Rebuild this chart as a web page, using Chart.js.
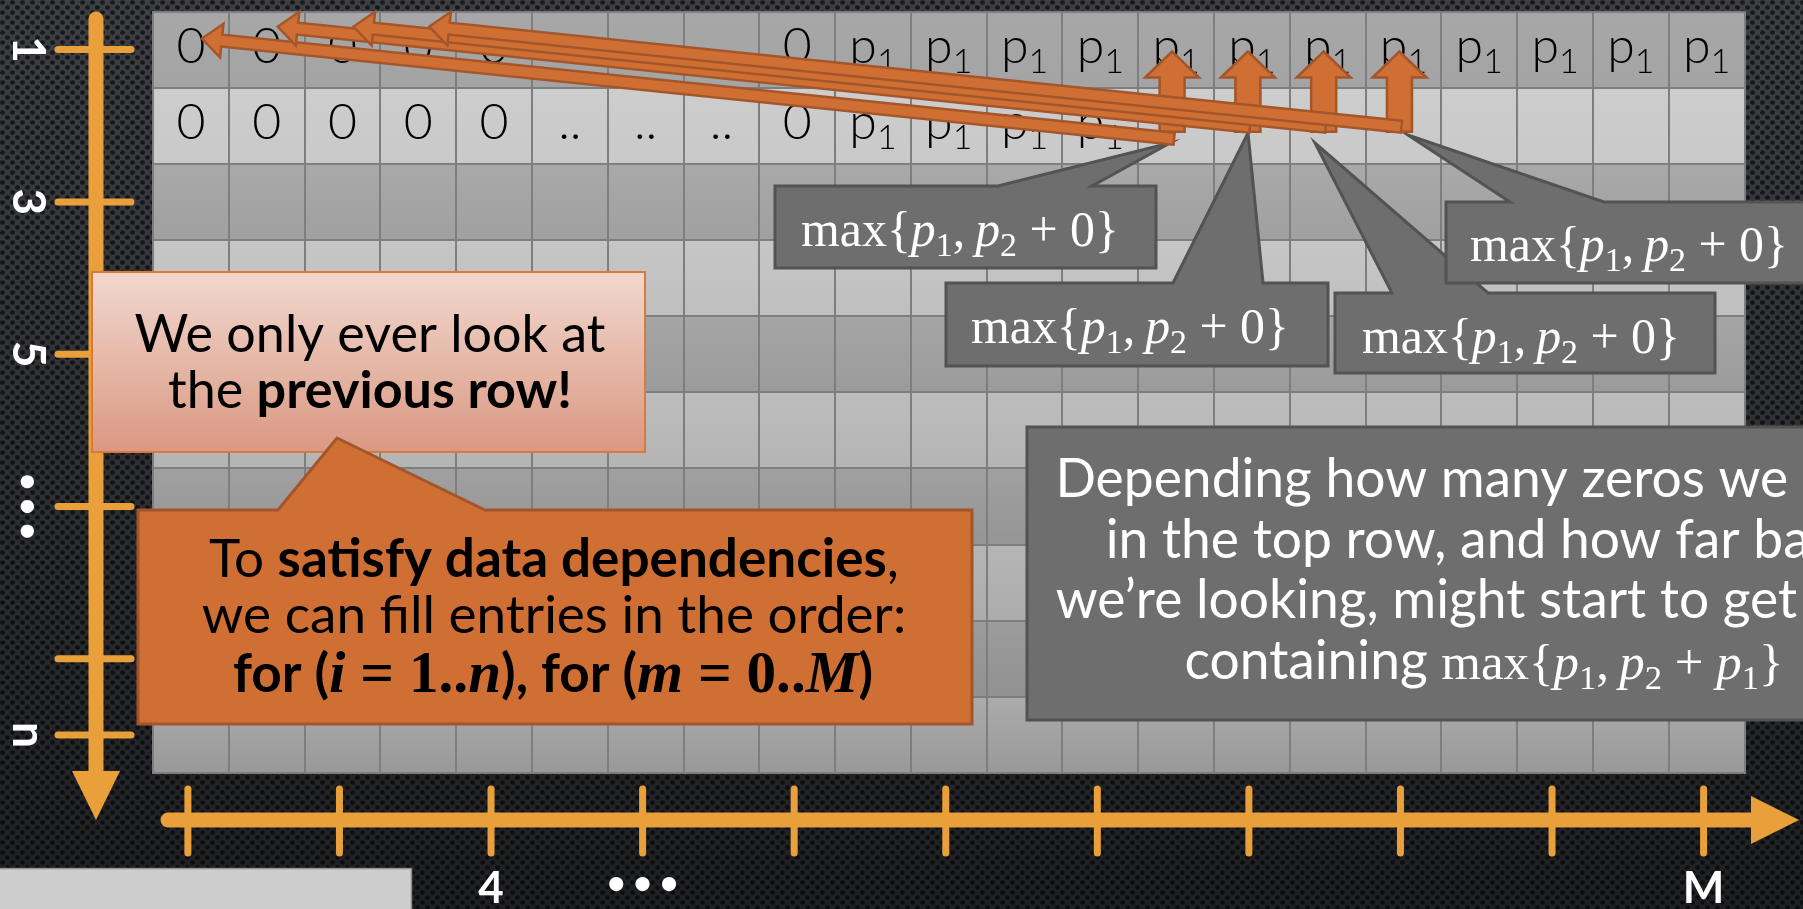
<!DOCTYPE html>
<html><head><meta charset="utf-8">
<script src="https://cdn.jsdelivr.net/npm/chart.js@4.4.1/dist/chart.umd.min.js"></script>
<style>html,body{margin:0;padding:0;background:#2b2d31;overflow:hidden}#wrap{width:1803px;height:909px;position:relative}canvas{display:block}</style>
</head><body><div id="wrap"><canvas id="c" width="1803" height="909"></canvas></div>
<script>
// ---------------- data ----------------
const rowLabels = ['1','2','3','4','5','6','7','8','9','10'];          // item index i (rows)
const colCount = 21;                                                   // capacity columns m = 0..M
const row1Cells = ['0','0','0','0','0','..','..','..','0','p1','p1','p1','p1','p1','p1','p1','p1','p1','p1','p1','p1'];
const row2Cells = ['0','0','0','0','0','..','..','..','0','p1','p1','p1','p1','','','','','','','',''];
const rowShadeTop    = ['#a7a7a7','#cdcdcd','#a9a9a9','#c6c6c6','#a5a5a5','#bdbdbd','#a0a0a0','#b5b5b5','#9c9c9c','#ababab'];
const rowShadeBottom = ['#a4a4a4','#c9c9c9','#a0a0a0','#bfbfbf','#9b9b9b','#b4b4b4','#959595','#acacac','#919191','#999999'];
const yTickRows   = [1, 3, 5, 7, 9, 10];
const yTickLabels = ['1','3','5','\u2022 \u2022 \u2022','','n'];
const xTickCols   = [1, 3, 5, 7, 9, 11, 13, 15, 17, 19, 21];
const xTickLabels = ['0','','4','\u2022 \u2022 \u2022','','','','','','','M'];
const computeCols = [14, 15, 16, 17];   // row-2 cells being computed
const lookBack = 13;                    // how far back (columns) each cell looks in row 1
const calloutText = [['max{','M'],['p','Mi'],['1','M_'],[',\u2009','M'],['p','Mi'],['2','M_'],[' + 0}','M']];

// ---------------- helpers ----------------
function segFont(st, size, ms) {
  const serif = st.includes('M'), bold = st.includes('b'), ital = st.includes('i'), sub = st.includes('_'), light = st.includes('L');
  const s = size * (serif ? (ms || 1) : 1) * (sub ? 0.68 : 1);
  const fam = serif ? "'Liberation Serif','DejaVu Serif',serif" : "Lato,'Open Sans',sans-serif";
  return { font: (ital ? 'italic ' : '') + (bold ? '700 ' : (light ? '300 ' : '400 ')) + s.toFixed(2) + 'px ' + fam,
           dy: sub ? size * (serif ? (ms || 1) : 1) * 0.2 : 0 };
}
function richWidth(ctx, segs, size, ms, only) {
  let w = 0;
  for (const [t, st] of segs) {
    if (only === 'M' && !st.includes('M')) continue;
    if (only === 'S' && st.includes('M')) continue;
    ctx.font = segFont(st, size, ms).font; w += ctx.measureText(t).width;
  }
  return w;
}
function drawRich(ctx, segs, cx, y, size, color, ms) {
  const w = richWidth(ctx, segs, size, ms);
  let x = cx - w / 2;
  ctx.textAlign = 'left'; ctx.textBaseline = 'alphabetic'; ctx.fillStyle = color;
  for (const [t, st] of segs) {
    const f = segFont(st, size, ms); ctx.font = f.font;
    ctx.fillText(t, x, y + f.dy);
    x += ctx.measureText(t).width;
  }
}
function fitSize(ctx, segs, target) { return 40 * target / richWidth(ctx, segs, 40, 1); }
function fitMath(ctx, segs, size, target) {
  const sw = richWidth(ctx, segs, size, 1, 'S'), mw = richWidth(ctx, segs, size, 1, 'M');
  return (target - sw) / mw;
}

function blockArrow(ctx, x1, y1, x2, y2, sw, hw, hl, fill, stroke) {
  const dx = x2 - x1, dy = y2 - y1, L = Math.hypot(dx, dy);
  const ux = dx / L, uy = dy / L, nx = -uy, ny = ux;
  const bx = x2 - ux * hl, by = y2 - uy * hl;
  ctx.beginPath();
  ctx.moveTo(x1 + nx * sw / 2, y1 + ny * sw / 2);
  ctx.lineTo(bx + nx * sw / 2, by + ny * sw / 2);
  ctx.lineTo(bx + nx * hw / 2, by + ny * hw / 2);
  ctx.lineTo(x2, y2);
  ctx.lineTo(bx - nx * hw / 2, by - ny * hw / 2);
  ctx.lineTo(bx - nx * sw / 2, by - ny * sw / 2);
  ctx.lineTo(x1 - nx * sw / 2, y1 - ny * sw / 2);
  ctx.closePath();
  ctx.fillStyle = fill; ctx.fill();
  ctx.lineWidth = 2.5; ctx.strokeStyle = stroke; ctx.lineJoin = 'miter'; ctx.stroke();
}
function wedgeCallout(ctx, x, y, w, h, b0, b1, tx, ty, fill, stroke, lw) {
  ctx.beginPath();
  ctx.moveTo(x, y); ctx.lineTo(b0, y); ctx.lineTo(tx, ty); ctx.lineTo(b1, y);
  ctx.lineTo(x + w, y); ctx.lineTo(x + w, y + h); ctx.lineTo(x, y + h); ctx.closePath();
  ctx.fillStyle = fill; ctx.fill();
  ctx.lineWidth = lw; ctx.strokeStyle = stroke; ctx.lineJoin = 'miter'; ctx.stroke();
}

function shade(c) {
  const chart = c.chart, i = c.dataIndex;
  const ys = chart.scales && chart.scales.y;
  if (i === undefined) return rowShadeTop[0];
  if (!chart.chartArea || !ys) return rowShadeTop[i];
  const cy = ys.getPixelForValue(i);
  const h = (chart.chartArea.bottom - chart.chartArea.top) / rowLabels.length;
  const g = chart.ctx.createLinearGradient(0, cy - h / 2, 0, cy + h / 2);
  g.addColorStop(0, rowShadeTop[i]); g.addColorStop(1, rowShadeBottom[i]);
  return g;
}

// ---------------- plugins ----------------
const bgPlugin = { id: 'bg', beforeDraw(chart) {
  const ctx = chart.ctx, W = chart.width, H = chart.height;
  const p = document.createElement('canvas'); p.width = 10; p.height = 10;
  const pc = p.getContext('2d');
  pc.fillStyle = '#3d3f44'; pc.fillRect(0, 0, 10, 10);
  pc.fillStyle = '#17181b';
  [[2.5, 2.5], [7.5, 7.5]].forEach(([x, y]) => { pc.beginPath(); pc.ellipse(x, y, 2.4, 2.2, 0, 0, Math.PI * 2); pc.fill(); });
  ctx.save();
  ctx.fillStyle = ctx.createPattern(p, 'repeat'); ctx.fillRect(0, 0, W, H);
  const g = ctx.createLinearGradient(0, 0, 0, H);
  g.addColorStop(0, 'rgba(0,0,0,0.0)'); g.addColorStop(1, 'rgba(0,0,0,0.5)');
  ctx.fillStyle = g; ctx.fillRect(0, 0, W, H);
  ctx.restore();
}};

const overlayPlugin = { id: 'overlay', afterDraw(chart) {
  const ctx = chart.ctx, xs = chart.scales.x, ys = chart.scales.y;
  const cx = col => xs.getPixelForValue(col - 0.5);
  const cy = row => ys.getPixelForValue(row - 1);
  ctx.save();

  // ---- cell values ----
  const cellSize = 50;
  [row1Cells, row2Cells].forEach((cells, ri) => {
    const y = cy(ri + 1) + 13;
    cells.forEach((v, ci) => {
      if (!v) return;
      const segs = v === 'p1' ? [['p', 'L'], ['1', 'L_']] : [[v, 'L']];
      drawRich(ctx, segs, cx(ci + 1), y, cellSize, '#000');
    });
  });

  // ---- orange axes ----
  const AX = '#e9a03a';
  ctx.strokeStyle = AX; ctx.fillStyle = AX; ctx.lineCap = 'round';
  const vx = 96;
  ctx.lineWidth = 7;
  yTickRows.forEach(r => { ctx.beginPath(); ctx.moveTo(58, cy(r)); ctx.lineTo(131, cy(r)); ctx.stroke(); });
  ctx.lineWidth = 15;
  ctx.beginPath(); ctx.moveTo(vx, 19); ctx.lineTo(vx, 775); ctx.stroke();
  ctx.beginPath(); ctx.moveTo(vx - 24, 771); ctx.lineTo(vx + 24, 771); ctx.lineTo(vx, 820); ctx.closePath(); ctx.fill();
  const hy = 820;
  ctx.lineWidth = 7;
  xTickCols.forEach(c => { ctx.beginPath(); ctx.moveTo(cx(c) - 3, 789); ctx.lineTo(cx(c) - 3, 853); ctx.stroke(); });
  ctx.lineWidth = 15;
  ctx.beginPath(); ctx.moveTo(168, hy); ctx.lineTo(1755, hy); ctx.stroke();
  ctx.beginPath(); ctx.moveTo(1751, hy - 24); ctx.lineTo(1751, hy + 24); ctx.lineTo(1799, hy); ctx.closePath(); ctx.fill();
  ctx.lineCap = 'butt';

  // axis labels
  ctx.fillStyle = '#ffffff';
  yTickLabels.forEach((lab, i) => {
    if (!lab) return;
    ctx.save();
    const dots = lab.includes('\u2022');
    ctx.translate(dots ? 28 : 13, cy(yTickRows[i]));
    ctx.rotate(Math.PI / 2);
    ctx.textAlign = 'center';
    ctx.textBaseline = dots ? 'middle' : 'alphabetic';
    ctx.font = dots ? "700 30px Lato,sans-serif" : "700 46px Lato,sans-serif";
    ctx.fillText(lab, 0, 0);
    ctx.restore();
  });
  xTickLabels.forEach((lab, i) => {
    if (!lab) return;
    const dots = lab.includes('\u2022');
    ctx.textAlign = 'center';
    ctx.textBaseline = dots ? 'middle' : 'alphabetic';
    ctx.font = dots ? "700 32px Lato,sans-serif" : "700 44px Lato,sans-serif";
    ctx.fillText(lab, cx(xTickCols[i]) - 3, dots ? 884 : 903);
  });

  // footer placeholder box (bottom-left)
  ctx.fillStyle = '#cdcdcd'; ctx.fillRect(0, 868, 412, 45);
  ctx.strokeStyle = '#8d8d8d'; ctx.lineWidth = 1.5;
  ctx.beginPath(); ctx.moveTo(0, 868.5); ctx.lineTo(411.5, 868.5); ctx.lineTo(411.5, 909); ctx.stroke();

  // ---- gray "max" callouts ----
  const GF = '#6e6e6e', GS = '#535353';
  const callouts = [
    { x: 775, y: 186, w: 381, h: 82, b: [998, 1092], t: [1170, 143], tx: 960, ty: 246 },
    { x: 946, y: 283, w: 382, h: 83, b: [1173, 1263], t: [1248, 133], tx: 1130, ty: 343 },
    { x: 1335, y: 293, w: 380, h: 80, b: [1392, 1488], t: [1315, 143], tx: 1521, ty: 353 },
    { x: 1446, y: 202, w: 390, h: 81, b: [1510, 1604], t: [1408, 135], tx: 1629, ty: 261 },
  ];
  const mSize = fitSize(ctx, calloutText, 318);
  callouts.forEach(c => {
    wedgeCallout(ctx, c.x, c.y, c.w, c.h, c.b[0], c.b[1], c.t[0], c.t[1], GF, GS, 3);
    drawRich(ctx, calloutText, c.tx, c.ty, mSize, '#ffffff', 1);
  });

  // ---- orange arrows ----
  const OF = '#cf6f33', OS = '#a3552b';
  computeCols.forEach(k => {
    blockArrow(ctx, cx(k) - 4, cy(2) + 6, cx(k) - 4, cy(1) + 2, 25, 54, 26, OF, OS);
  });
  computeCols.forEach((k, i) => {
    const off = i === 0 ? 12 : 0;
    blockArrow(ctx, cx(k) - 2, cy(2) + 1 + off, cx(k - lookBack) + 11, cy(1) - 23 + off, 12, 34, 20, OF, OS);
  });

  // ---- pink note ----
  const pg = ctx.createLinearGradient(0, 272, 0, 452);
  pg.addColorStop(0, '#f1d8ce'); pg.addColorStop(1, '#da9882');
  ctx.fillStyle = pg; ctx.fillRect(92, 272, 553, 180);
  ctx.strokeStyle = '#d9793c'; ctx.lineWidth = 2; ctx.strokeRect(92, 272, 553, 180);
  const pinkL1 = [['We only ever look at', 's']];
  const pinkL2 = [['the ', 's'], ['previous row!', 'b']];
  const pSize = fitSize(ctx, pinkL1, 471);
  drawRich(ctx, pinkL1, 370, 352, pSize, '#000');
  drawRich(ctx, pinkL2, 370, 408, pSize, '#000');

  // ---- orange note ----
  wedgeCallout(ctx, 138, 510, 834, 214, 278, 485, 337, 438, OF, OS, 3);
  const oL1 = [['To ', 's'], ['satisfy data dependencies', 'b'], [',', 's']];
  const oL2 = [['we can fill entries in the order:', 's']];
  const oL3 = [['for (', 'b'], ['i', 'Mbi'], [' = ', 'Mb'], ['1..', 'Mb'], ['n', 'Mbi'], ['), for (', 'b'],
               ['m', 'Mbi'], [' = ', 'Mb'], ['0..', 'Mb'], ['M', 'Mbi'], [')', 'b']];
  const oSize = fitSize(ctx, oL1, 690);
  drawRich(ctx, oL1, 554, 577, oSize, '#000');
  drawRich(ctx, oL2, 554, 633, oSize, '#000');
  const oMs = fitMath(ctx, oL3, oSize, 640);
  drawRich(ctx, oL3, 553, 692, oSize, '#000', oMs);

  // ---- dark note ----
  ctx.fillStyle = GF; ctx.fillRect(1027, 427, 920, 293);
  ctx.strokeStyle = GS; ctx.lineWidth = 3; ctx.strokeRect(1027, 427, 920, 293);
  const dSize = fitSize(ctx, [['Depending how many zeros we', 's']], 733);
  const dLines = [
    [['Depending how many zeros we have', 's']],
    [['in the top row, and how far back', 's']],
    [['we\u2019re looking, might start to get cells', 's']],
    [['containing ', 's'], ['max{', 'M'], ['p', 'Mi'], ['1', 'M_'], [',\u2009', 'M'], ['p', 'Mi'], ['2', 'M_'], [' + ', 'M'], ['p', 'Mi'], ['1', 'M_'], ['}', 'M']],
  ];
  const dMs = fitMath(ctx, dLines[3], dSize, 599);
  [497, 558, 618, 679].forEach((y, i) => drawRich(ctx, dLines[i], i === 3 ? 1484 : 1484, y, dSize, '#ffffff', dMs));

  ctx.restore();
}};

// ---------------- chart ----------------
new Chart(document.getElementById('c'), {
  type: 'bar',
  data: {
    labels: rowLabels,
    datasets: [{
      data: rowLabels.map(() => [0, colCount]),
      backgroundColor: shade, borderWidth: 0, barPercentage: 1, categoryPercentage: 1
    }]
  },
  options: {
    indexAxis: 'y', responsive: false, animation: false, devicePixelRatio: 1,
    layout: { padding: { left: 153, top: 11.5, right: 58.5, bottom: 136 } },
    plugins: { legend: { display: false }, tooltip: { enabled: false } },
    scales: {
      x: { type: 'linear', min: 0, max: colCount, z: 1,
           ticks: { display: false, stepSize: 1, autoSkip: false, maxTicksLimit: 100 },
           grid: { z: 1, color: '#7e7e7e', lineWidth: 2, drawTicks: false },
           border: { z: 2, display: true, color: '#7e7e7e', width: 2 } },
      y: { type: 'category', z: 1, offset: true,
           ticks: { display: false, autoSkip: false },
           grid: { z: 1, offset: true, color: '#7e7e7e', lineWidth: 2, drawTicks: false },
           border: { z: 2, display: true, color: '#7e7e7e', width: 2 } }
    }
  },
  plugins: [bgPlugin, overlayPlugin]
});
</script>
</body></html>
